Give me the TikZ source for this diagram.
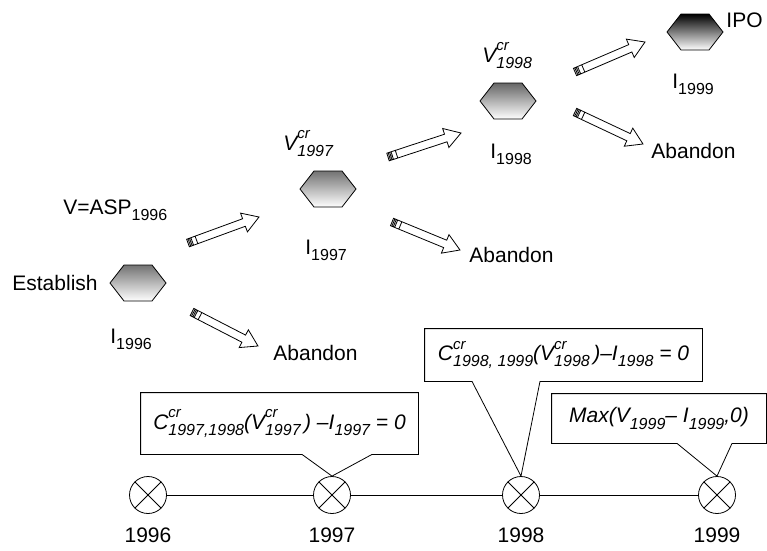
\documentclass[tikz,border=0pt]{standalone}
\usepackage{fontspec}
\setmainfont{Liberation Sans}
\usetikzlibrary{calc,positioning}

\newcommand{\sub}[1]{\raisebox{-0.3em}{\fontsize{16}{16}\selectfont #1}}
\newcommand{\supsub}[2]{\makebox[0pt][l]{\raisebox{0.55em}{\fontsize{15}{15}\selectfont #1}}\sub{#2}}
% block arrow with a hatched tail, from #1 to #2
\newcommand{\hatcharrow}[2]{%
  \draw[fill=white] let \p1=($(#2)-(#1)$), \n1={atan2(\y1,\x1)}, \n2={veclen(\x1,\y1)} in
    [shift={(#1)}, rotate=\n1]
    (0,-4) -- (\n2-16,-4) -- (\n2-16,-10) -- (\n2,0) -- (\n2-16,10) -- (\n2-16,4) -- (0,4) -- cycle
    (1.5,-4) -- (1.5,4) (3,-4) -- (3,4) (4.5,-4) -- (4.5,4) (9,-4) -- (9,4);}

\tikzset{
  pics/hexa/.style={code={%
    \shade[draw=black, line width=0.8pt, top color=#1, bottom color=white]
      (-28,0) -- (-14,-18) -- (14,-18) -- (28,0) -- (14,18) -- (-14,18) -- cycle;}},
}

\begin{document}
\begin{tikzpicture}[x=1pt, y=-1pt, line width=0.8pt,
  font=\fontsize{21}{25}\selectfont,
  lbl/.style={inner sep=0pt, anchor=base west},
  year/.style={inner sep=0pt, anchor=base},
  tick/.style={circle, draw, minimum size=37pt, inner sep=0pt},
  callbox/.style={inner sep=0pt, align=center, font=\fontsize{21}{25}\selectfont\itshape}]
\useasboundingbox (0,0) rectangle (767,550);

% decision points
\pic (e96) at (138,283) {hexa=black!55};
\pic (e97) at (328,189) {hexa=black!55};
\pic (e98) at (508,101) {hexa=black!60};
\pic (e99) at (695,32) {hexa=black};

\node[lbl] (est) at (12,290) {Establish};
\node[lbl] (v96) at (63,214) {V=ASP\sub{1996}};
\node[lbl] (i96) at (110,343) {I\sub{1996}};
\node[lbl] (v97) at (283,150) {\itshape V\supsub{cr}{1997}};
\node[lbl] (i97) at (305,254) {I\sub{1997}};
\node[lbl] (v98) at (482,62) {\itshape V\supsub{cr}{1998}};
\node[lbl] (i98) at (490,158) {I\sub{1998}};
\node[lbl] (ipo) at (726,27) {IPO};
\node[lbl] (i99) at (672,88) {I\sub{1999}};
\node[lbl] (ab96) at (273,360) {Abandon};
\node[lbl] (ab97) at (469,262) {Abandon};
\node[lbl] (ab98) at (651,158) {Abandon};

% moves
\coordinate (u96t) at (188,243); \coordinate (u96h) at (259,217);
\coordinate (d96t) at (192,312); \coordinate (d96h) at (258,346);
\coordinate (u97t) at (388,157); \coordinate (u97h) at (461,133);
\coordinate (d97t) at (392,222); \coordinate (d97h) at (460,250);
\coordinate (u98t) at (575,72);  \coordinate (u98h) at (645,42);
\coordinate (d98t) at (575,112); \coordinate (d98h) at (643,144);
\hatcharrow{u96t}{u96h} \hatcharrow{d96t}{d96h}
\hatcharrow{u97t}{u97h} \hatcharrow{d97t}{d97h}
\hatcharrow{u98t}{u98h} \hatcharrow{d98t}{d98h}

% time line
\foreach \yr/\xx in {96/148, 97/332, 98/521, 99/717} {
  \node[tick] (c\yr) at (\xx,495) {};
  \draw (c\yr.north east) -- (c\yr.south west) (c\yr.north west) -- (c\yr.south east);
  \node[year] (t\yr) at (\xx,542) {19\yr};
}
\draw (c96) -- (c97) -- (c98) -- (c99);

% call-outs
\node[callbox, minimum width=277pt, minimum height=61pt] (b1) at (279.5,423.5)
  {C\supsub{cr}{1997,1998}(V\supsub{cr}{1997}\,) –I\sub{1997} = 0};
\draw (b1.south west) -- (b1.north west) -- (b1.north east) -- (b1.south east)
  -- ([xshift=92.5pt]b1.south) -- (c97.north) -- ([xshift=22.5pt]b1.south) -- cycle;
\node[callbox, minimum width=277pt, minimum height=52pt] (b2) at (563.5,355)
  {C\supsub{cr}{1998, 1999}(V\supsub{cr}{1998}\,)–I\sub{1998} = 0};
\draw (b2.south west) -- (b2.north west) -- (b2.north east) -- (b2.south east)
  -- ([xshift=-23.5pt]b2.south) -- (c98.north) -- ([xshift=-91.5pt]b2.south) -- cycle;
\node[callbox, minimum width=214pt, minimum height=49pt] (b3) at (659,418.5)
  {Max(V\sub{1999}– I\sub{1999},0)};
\draw (b3.south west) -- (b3.north west) -- (b3.north east) -- (b3.south east)
  -- ([xshift=73pt]b3.south) -- (c99.north) -- ([xshift=18pt]b3.south) -- cycle;
\end{tikzpicture}
\end{document}
